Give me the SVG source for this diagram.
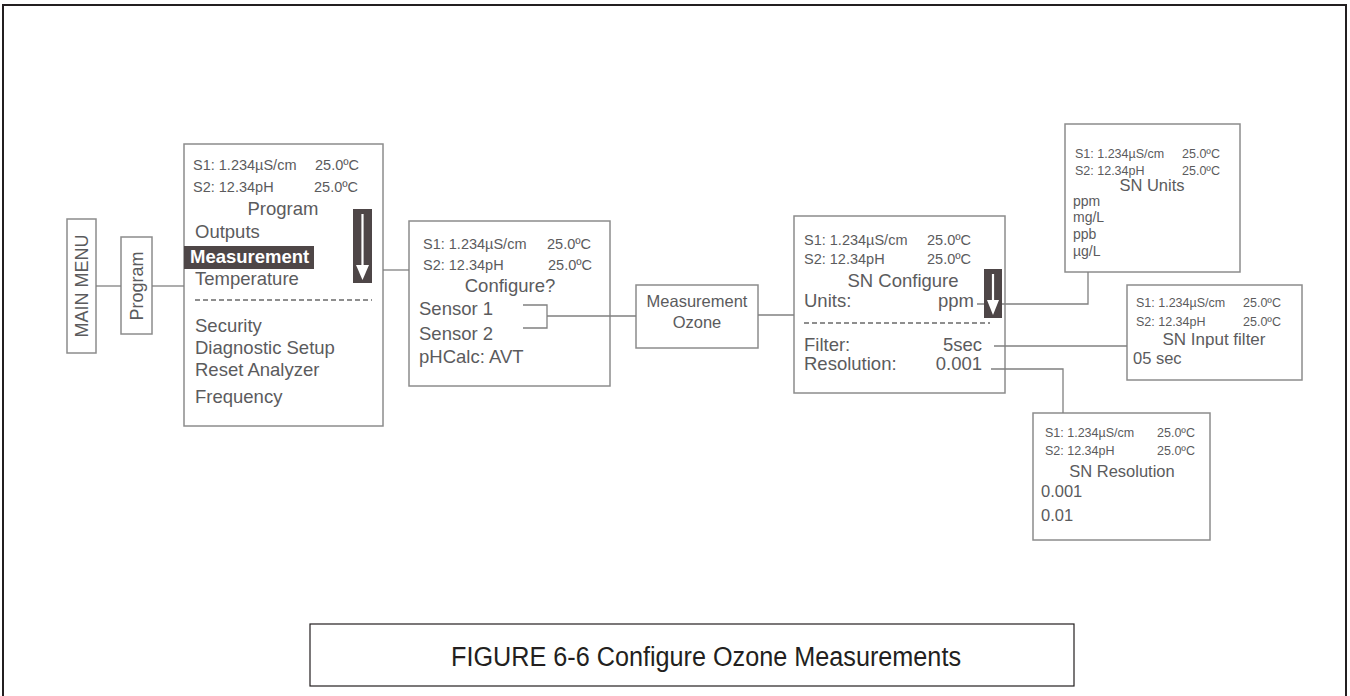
<svg xmlns="http://www.w3.org/2000/svg" width="1350" height="696" viewBox="0 0 1350 696">
<style>
.box{fill:#fff;stroke:#8c8c8c;stroke-width:1.5}
.t{font-family:"Liberation Sans",Arial,sans-serif;fill:#5b5b5d}
.s{font-size:14.5px}
.sm{font-size:12.5px}
.m{font-size:18.5px}
.c{text-anchor:middle}
.e{text-anchor:end}
.con{fill:none;stroke:#808080;stroke-width:1.3}
.dark{fill:#4e4647}
.wl{stroke:#fff;stroke-width:2.2}
.dash{stroke:#6a6a6a;stroke-width:1.6;stroke-dasharray:5 3}
</style>
<rect x="3" y="5" width="1343" height="700" fill="none" stroke="#231f20" stroke-width="2"/>

<g id="main-menu">
<rect class="box" x="67" y="219" width="29" height="134"/>
<text class="t c" font-size="18" transform="translate(88,286) rotate(-90)">MAIN MENU</text>
</g>

<g id="program-btn">
<rect class="box" x="121" y="237" width="31" height="97"/>
<text class="t c" font-size="18" transform="translate(143,286) rotate(-90)">Program</text>
</g>

<g id="program-screen">
<rect class="box" x="184" y="144" width="199" height="282"/>
<text class="t s" x="193" y="170">S1: 1.234µS/cm</text><text class="t s" x="315" y="170">25.0ºC</text>
<text class="t s" x="193" y="192">S2: 12.34pH</text><text class="t s" x="314" y="192">25.0ºC</text>
<text class="t m c" x="283" y="215">Program</text>
<text class="t m" x="195" y="238">Outputs</text>
<rect class="dark" x="184" y="246" width="130" height="23"/>
<text class="m" x="190" y="263" font-family="Liberation Sans,Arial,sans-serif" font-weight="bold" fill="#fff">Measurement</text>
<text class="t m" x="195" y="285">Temperature</text>
<line class="dash" x1="195" y1="300" x2="372" y2="300"/>
<text class="t m" x="195" y="332">Security</text>
<text class="t m" x="195" y="354">Diagnostic Setup</text>
<text class="t m" x="195" y="376">Reset Analyzer</text>
<text class="t m" x="195" y="403">Frequency</text>
<rect class="dark" x="353" y="209" width="19" height="74"/>
<line class="wl" x1="362.5" y1="214" x2="362.5" y2="268"/>
<polygon points="356,265 369,265 362.5,280" fill="#fff"/>
</g>

<g id="configure-screen">
<rect class="box" x="409" y="221" width="201" height="165"/>
<text class="t s" x="423" y="249">S1: 1.234µS/cm</text><text class="t s" x="547" y="249">25.0ºC</text>
<text class="t s" x="423" y="270">S2: 12.34pH</text><text class="t s" x="548" y="270">25.0ºC</text>
<text class="t m c" x="510" y="292">Configure?</text>
<text class="t m" x="419" y="315">Sensor 1</text>
<text class="t m" x="419" y="340">Sensor 2</text>
<text class="t m" x="419" y="363">pHCalc: AVT</text>
</g>

<g id="measurement-ozone">
<rect class="box" x="636" y="285" width="122" height="63"/>
<text class="t c" font-size="16.5" x="697" y="307">Measurement</text>
<text class="t c" font-size="16.5" x="697" y="328">Ozone</text>
</g>

<g id="sn-configure">
<rect class="box" x="794" y="216" width="211" height="177"/>
<text class="t s" x="804" y="245">S1: 1.234µS/cm</text><text class="t s" x="927" y="245">25.0ºC</text>
<text class="t s" x="804" y="264">S2: 12.34pH</text><text class="t s" x="927" y="264">25.0ºC</text>
<text class="t m c" x="903" y="287">SN Configure</text>
<text class="t m" x="804" y="307">Units:</text><text class="t m e" x="974" y="307">ppm</text>
<line class="dash" x1="804" y1="323" x2="990" y2="323"/>
<text class="t m" x="804" y="351">Filter:</text><text class="t m e" x="982" y="351">5sec</text>
<text class="t m" x="804" y="370">Resolution:</text><text class="t m e" x="982" y="370">0.001</text>
<rect class="dark" x="984" y="269" width="18" height="49"/>
<line class="wl" x1="993" y1="274" x2="993" y2="303"/>
<polygon points="987,300 999,300 993,315" fill="#fff"/>
</g>

<g id="sn-units">
<rect class="box" x="1065" y="124" width="175" height="148"/>
<text class="t sm" x="1075" y="158">S1: 1.234µS/cm</text><text class="t sm" x="1182" y="158">25.0ºC</text>
<text class="t sm" x="1075" y="175">S2: 12.34pH</text><text class="t sm" x="1182" y="175">25.0ºC</text>
<text class="t c" font-size="16.5" x="1152" y="191">SN Units</text>
<text class="t" font-size="14" x="1073" y="206">ppm</text>
<text class="t" font-size="14" x="1073" y="222">mg/L</text>
<text class="t" font-size="14" x="1073" y="239">ppb</text>
<text class="t" font-size="14" x="1073" y="256">µg/L</text>
</g>

<g id="sn-input-filter">
<rect class="box" x="1127" y="285" width="175" height="95"/>
<text class="t sm" x="1136" y="307">S1: 1.234µS/cm</text><text class="t sm" x="1243" y="307">25.0ºC</text>
<text class="t sm" x="1136" y="326">S2: 12.34pH</text><text class="t sm" x="1243" y="326">25.0ºC</text>
<text class="t c" font-size="17" x="1214" y="345">SN Input filter</text>
<text class="t" font-size="16.5" x="1133" y="364">05 sec</text>
</g>

<g id="sn-resolution">
<rect class="box" x="1033" y="413" width="177" height="127"/>
<text class="t sm" x="1045" y="437">S1: 1.234µS/cm</text><text class="t sm" x="1157" y="437">25.0ºC</text>
<text class="t sm" x="1045" y="455">S2: 12.34pH</text><text class="t sm" x="1157" y="455">25.0ºC</text>
<text class="t c" font-size="16.5" x="1122" y="477">SN Resolution</text>
<text class="t" font-size="16.5" x="1041" y="497">0.001</text>
<text class="t" font-size="16.5" x="1041" y="521">0.01</text>
</g>

<g id="caption">
<rect x="310" y="624" width="764" height="62" fill="#fff" stroke="#231f20" stroke-width="1.2"/>
<text x="706" y="666" text-anchor="middle" font-family="Liberation Sans,Arial,sans-serif" font-size="27" fill="#231f20" textLength="510" lengthAdjust="spacingAndGlyphs">FIGURE 6-6 Configure Ozone Measurements</text>
</g>

<g id="connectors" class="con">
<path d="M96 286H121"/>
<path d="M152 286H184"/>
<path d="M383 270H409"/>
<path d="M523 305H547V328H523M547 316H636"/>
<path d="M758 315H794"/>
<path d="M977 304H984M1002 304H1088V272"/>
<path d="M994 346H1127"/>
<path d="M991 369H1063V413"/>
</g>
</svg>
